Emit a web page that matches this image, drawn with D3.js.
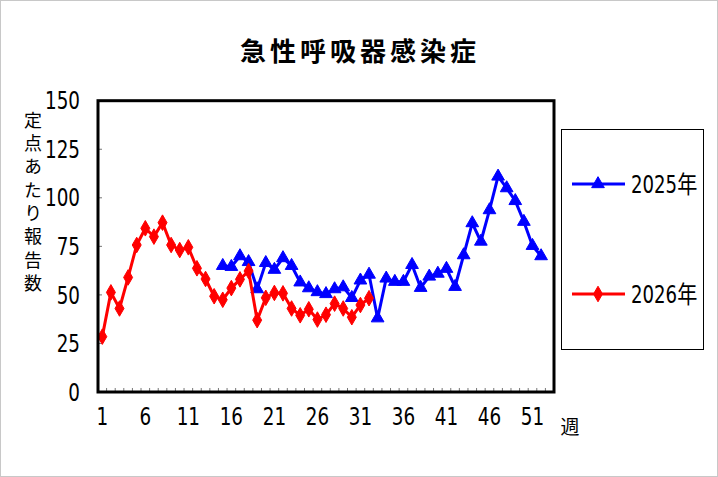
<!DOCTYPE html>
<html>
<head>
<meta charset="utf-8">
<script src="https://cdn.jsdelivr.net/npm/d3@7"></script>
<style>
  body { margin: 0; background: #fff; }
  .num { font-family: "Liberation Sans Narrow", "DejaVu Sans Condensed", "Noto Sans CJK JP", sans-serif; font-size: 24px; fill: #000; }
  .jp { font-family: "Noto Sans CJK JP", sans-serif; fill: #000; }
</style>
</head>
<body>
<div class="chart"></div>
<script>
"use strict";
const weeks = d3.range(1, 54);
const tickWeeks = [1, 6, 11, 16, 21, 26, 31, 36, 41, 46, 51];
const yTicks = [0, 25, 50, 75, 100, 125, 150];
// 2025: weeks 15-52
const start2025 = 15;
const values2025 = [65, 64.5, 70, 67, 53, 66.5, 63, 69, 65, 56.5, 53.5, 51.5, 50.5, 53, 54, 48.5, 57.5, 60.5,
    38, 58.5, 56.8, 56.8, 65.5, 53.7, 59.5, 61, 63.5, 54.2, 70.5, 87, 77.5, 93.7, 111, 105, 98.4, 87.7, 75.3, 70];
// 2026: weeks 1-32
const start2026 = 1;
const values2026 = [28.5, 51.3, 43, 59, 75.7, 84.3, 80, 87.2, 75.7, 73.1, 74.5, 63.7, 58.2, 49.3, 47.5, 53.5,
    58, 62.3, 37, 48.5, 51, 50.8, 43, 39.5, 42.6, 37.3, 39.8, 45.5, 43, 38.5, 44.8, 48.3];
const seriesNames = ["2025年", "2026年"];

const W = 718, H = 477;
const margin = {left: 98, right: 164, top: 100.7, bottom: 85};
const width = W - margin.left - margin.right;
const height = H - margin.top - margin.bottom;
const squeeze = 0.85;

let svg = d3.select(".chart").append("svg")
    .attr("width", W)
    .attr("height", H);

svg.append("rect")
    .attr("x", 0.5).attr("y", 0.5)
    .attr("width", W - 1).attr("height", H - 1)
    .style("fill", "#fff")
    .style("stroke", "#c8c8c8");

svg.append("text")
    .attr("class", "jp")
    .attr("x", 360).attr("y", 61)
    .attr("text-anchor", "middle")
    .style("font-size", "26px")
    .style("font-weight", "bold")
    .style("letter-spacing", "4px")
    .text("急性呼吸器感染症");

let g = svg.append("g")
    .attr("transform", "translate(" + margin.left + "," + margin.top + ")");

let x = d3.scaleBand().domain(weeks).range([0, width]).padding(0);
let y = d3.scaleLinear().domain([0, 150]).range([height, 0]);
let cx = w => x(w) + x.bandwidth() / 2;

// x minor ticks at band boundaries
g.append("g")
    .selectAll("line")
    .data(weeks.slice(1))
    .enter().append("line")
    .attr("x1", d => x(d)).attr("x2", d => x(d))
    .attr("y1", height).attr("y2", height - 4)
    .style("stroke", "#777").style("stroke-width", 1);

// y ticks
g.append("g")
    .selectAll("line")
    .data(yTicks.slice(1, -1))
    .enter().append("line")
    .attr("x1", 0).attr("x2", 4)
    .attr("y1", d => y(d)).attr("y2", d => y(d))
    .style("stroke", "#777").style("stroke-width", 1);

g.append("g")
    .selectAll("text")
    .data(yTicks)
    .enter().append("text")
    .attr("class", "num")
    .attr("transform", d => "translate(-18," + y(d) + ") scale(" + squeeze + ",1)")
    .attr("dy", "0.36em")
    .attr("text-anchor", "end")
    .text(d => d);

g.append("g")
    .selectAll("text")
    .data(tickWeeks)
    .enter().append("text")
    .attr("class", "num")
    .attr("transform", d => "translate(" + cx(d) + "," + (height + 33) + ") scale(" + squeeze + ",1)")
    .attr("text-anchor", "middle")
    .text(d => d);

svg.append("text")
    .attr("class", "jp")
    .attr("x", 570).attr("y", 434)
    .attr("text-anchor", "middle")
    .style("font-size", "19px")
    .text("週");

// vertical y axis title
svg.append("text")
    .attr("class", "jp")
    .attr("x", 33).attr("y", 111)
    .style("writing-mode", "vertical-rl")
    .style("font-size", "18px")
    .style("letter-spacing", "5.3px")
    .text("定点あたり報告数");

let line = d3.line()
    .x(d => cx(d.week))
    .y(d => y(d.value));

let d2025 = values2025.map((v, i) => ({week: start2025 + i, value: v}));
let d2026 = values2026.map((v, i) => ({week: start2026 + i, value: v}));

let tri = d3.symbol().type(d3.symbolTriangle).size(70);
let dia = d3.symbol().type(d3.symbolDiamond).size(70);

function drawSeries(data, color, sym) {
    g.append("path")
        .attr("d", line(data))
        .style("fill", "none")
        .style("stroke", color)
        .style("stroke-width", 3)
        .style("stroke-linejoin", "round");
    g.append("g")
        .selectAll("path")
        .data(data)
        .enter().append("path")
        .attr("d", sym)
        .attr("transform", d => "translate(" + cx(d.week) + "," + y(d.value) + ")")
        .style("fill", color)
        .style("stroke", color)
        .style("stroke-width", 1);
}
drawSeries(d2025, "#0000ff", tri);
drawSeries(d2026, "#ff0000", dia);

// plot border
g.append("rect")
    .attr("x", 0).attr("y", 0)
    .attr("width", width).attr("height", height)
    .style("fill", "none")
    .style("stroke", "#000")
    .style("stroke-width", 3);

// legend
let lg = svg.append("g");
lg.append("rect")
    .attr("x", 561.5).attr("y", 129.5)
    .attr("width", 142).attr("height", 220)
    .style("fill", "none").style("stroke", "#000").style("stroke-width", 1);
[["#0000ff", tri, 184], ["#ff0000", dia, 294]].forEach((s, i) => {
    lg.append("line")
        .attr("x1", 572).attr("x2", 625)
        .attr("y1", s[2]).attr("y2", s[2])
        .style("stroke", s[0]).style("stroke-width", 3);
    lg.append("path")
        .attr("d", s[1])
        .attr("transform", "translate(598," + s[2] + ")")
        .style("fill", s[0]).style("stroke", s[0]);
    lg.append("text")
        .attr("class", "num")
        .attr("transform", "translate(631," + s[2] + ") scale(0.84,1)")
        .attr("dy", "0.36em")
        .text(seriesNames[i]);
});
</script>
</body>
</html>
